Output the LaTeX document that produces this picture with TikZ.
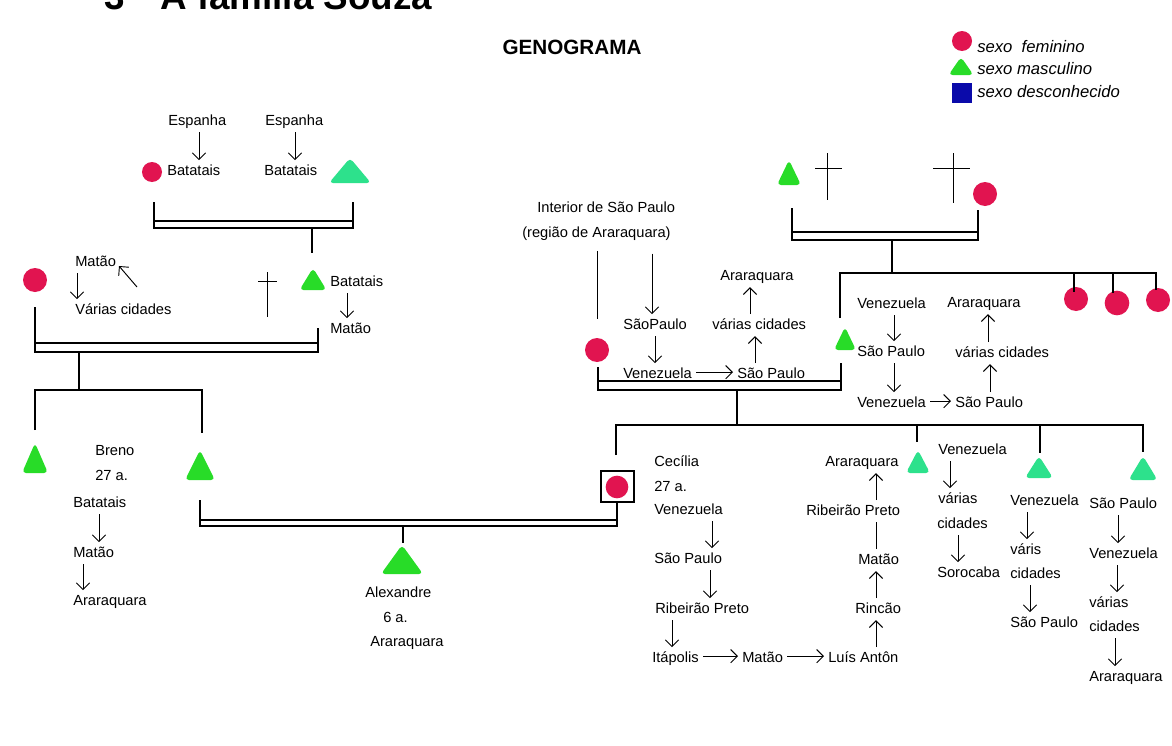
\documentclass[tikz,border=0pt]{standalone}
\usepackage{fontspec}
\setmainfont{Liberation Sans}
\usetikzlibrary{arrows.meta}
\definecolor{fred}{RGB}{225,20,80}
\definecolor{mgreen}{RGB}{40,220,40}
\definecolor{mint}{RGB}{45,225,140}
\definecolor{lblue}{RGB}{10,10,170}
\newcommand\gtri[6]{%
  \coordinate (#1) at (#2,{(#3+#4)/2});%
  \fill[#6, rounded corners=3pt] ({#2-#5/2},#4) -- (#2,#3) -- ({#2+#5/2},#4) -- cycle;}
\newcommand\marr[7]{%
  \coordinate (#7l) at (#1,#6); \coordinate (#7r) at (#2,#6);%
  \draw[kin] (#1,#3) -- (#7l) -- (#7r) -- (#2,#4);%
  \draw[kin] (#1,#5) -- (#2,#5);}
\begin{document}
\begin{tikzpicture}[x=0.75pt,y=-0.75pt,
  txt/.style={anchor=base west, inner sep=0pt, text height=7.9pt, text depth=2.2pt, font=\fontsize{11}{13}\selectfont},
  arr/.style={-{Straight Barb[length=5pt,width=10pt]}, line width=0.7pt, shorten <=3pt, shorten >=3pt},
  ln/.style={line width=0.7pt},
  kin/.style={line width=0.9pt},
  fem/.style={circle, fill=fred, inner sep=0pt, minimum size=#1},
  leg/.style={anchor=base west, inner sep=0pt, font=\fontsize{12.5}{14}\selectfont\itshape},
]
\useasboundingbox (0,0) rectangle (1172,746);
\fill[white] (0,0) rectangle (1172,746);

% title (cut at top)
\node[anchor=base west, inner sep=0, font=\fontsize{27.6}{30}\selectfont\bfseries] (tnum) at (104,9) {3};
\node[anchor=base west, inner sep=0, font=\fontsize{27.6}{30}\selectfont\bfseries] (title) at (160,9) {A família Souza};
\node[anchor=base, inner sep=0, font=\fontsize{15.5}{18}\selectfont\bfseries] (geno) at (572,55) {GENOGRAMA};

% legend
\node[fem=15pt] (lf) at (962,41) {};
\gtri{lm}{961}{57}{75}{25}{mgreen}
\node[fill=lblue, minimum size=15pt, inner sep=0] (lu) at (962,93) {};
\node[leg] (lft) at (977,52) {sexo\ \ feminino};
\node[leg] (lmt) at (977,74) {sexo masculino};
\node[leg] (lut) at (977,97) {sexo desconhecido};

% persons
\node[fem=15pt] (fA) at (152,172) {};
\node[fem=18pt] (fB) at (35,280) {};
\node[fem=18pt] (fC) at (597,350) {};
\node[fem=18pt] (fD) at (985,194) {};
\node[fem=18pt] (fE) at (1076,299) {};
\node[fem=18.5pt] (fF) at (1117,303) {};
\node[fem=18pt] (fG) at (1158,300) {};
\node[draw, line width=0.8pt, minimum width=24.75pt, minimum height=23.25pt, inner sep=0] (cbox) at (617.5,486.5) {};
\node[fem=17pt] (fH) at (617,487) {};
\gtri{mA}{350}{158}{183}{42}{mint}
\gtri{mB}{313}{268}{290}{27}{mgreen}
\gtri{mC}{35}{443}{473}{26}{mgreen}
\gtri{mD}{200}{450}{480}{30}{mgreen}
\gtri{mE}{402}{545}{574}{42}{mgreen}
\gtri{mF}{789}{160}{185}{24}{mgreen}
\gtri{mG}{845}{327}{350}{22}{mgreen}
\gtri{mH}{918}{450}{473}{24}{mint}
\gtri{mI}{1039}{456}{478}{28}{mint}
\gtri{mJ}{1143}{456}{480}{29}{mint}

% crosses
\draw[ln] (267,272) -- (267,317) (258,281) -- (277,281);
\draw[ln] (827,153) -- (827,200) (815,168) -- (842,168);
\draw[ln] (953,153) -- (953,203) (933,168) -- (970,168);

% marriages
\marr{154}{353}{202}{202}{221}{228}{pa}
\marr{35}{318}{307}{328}{343}{352}{pb}
\marr{200}{617}{500}{502}{520}{526}{pc}
\marr{598}{841}{367}{363}{381}{390}{pd}
\marr{792}{978}{208}{210}{232}{240}{pe}

% descent lines
\draw[kin] (pal -| 312,0) -- (312,253);
\draw[kin] (pbl -| 79,0) -- (79,390);
\draw[kin] (35,430) -- (35,390) -- (202,390) -- (202,433);
\draw[kin] (pcl -| 403,0) -- (403,543);
\draw[kin] (pdl -| 737,0) -- (737,425);
\draw[kin] (616,455) -- (616,425) -- (1143,425) -- (1143,452);
\draw[kin] (917,425) -- (917,442) (1040,425) -- (1040,453);
\draw[kin] (pel -| 892,0) -- (892,273);
\draw[kin] (840,318) -- (840,273) -- (1156,273) -- (1156,290);
\draw[kin] (1074,273) -- (1074,292) (1113,273) -- (1113,293);

% top-left texts
\node[txt] (espA) at (168,125) {Espanha};
\node[txt] (batA) at (167,175) {Batatais};
\node[txt] (espB) at (265,125) {Espanha};
\node[txt] (batB) at (264,175) {Batatais};
\draw[arr] (espA.south -| 199,0) -- (batA.north -| 199,0);
\draw[arr] (espB.south -| 295,0) -- (batB.north -| 295,0);

\node[txt] (pBat) at (330,286) {Batatais};
\node[txt] (pMat) at (330,333) {Matão};
\draw[arr] (pBat.south -| 347,0) -- (pMat.north -| 347,0);

\node[txt] (gMat) at (75,266) {Matão};
\node[txt] (gVar) at (75,314) {Várias cidades};
\draw[arr] (gMat.south -| 77,0) -- (gVar.north -| 77,0);
\coordinate (dgS) at (137,287);
\coordinate (dgE) at (119,266);
\draw[arr, shorten <=0pt, shorten >=0pt] (dgS) -- (dgE);

% Breno
\node[txt] (breno) at (95,455) {Breno};
\node[txt] (brenoAge) at (95,480) {27 a.};
\node[txt] (bBat) at (73,507) {Batatais};
\node[txt] (bMat) at (73,557) {Matão};
\node[txt] (bAra) at (73,605) {Araraquara};
\draw[arr] (bBat.south -| 99,0) -- (bMat.north -| 99,0);
\draw[arr] (bMat.south -| 83,0) -- (bAra.north -| 83,0);

% Alexandre
\node[txt] (alex) at (365,597) {Alexandre};
\node[txt] (alexAge) at (383,622) {6 a.};
\node[txt] (alexAra) at (370,646) {Araraquara};

% middle couple
\node[txt] (intSP) at (537,212) {Interior de São Paulo};
\node[txt] (regAra) at (522,237) {(região de Araraquara)};
\draw[ln, shorten <=8pt, shorten >=14pt] (regAra.south -| 597,0) -- (fC.north);
\node[txt] (mSP1) at (623,329) {SãoPaulo};
\node[txt] (mVen) at (623,378) {Venezuela};
\node[txt] (mSP2) at (737,378) {São Paulo};
\node[txt] (mVar) at (712,329) {várias cidades};
\node[txt] (mAra) at (720,280) {Araraquara};
\draw[arr, shorten <=10pt] (regAra.south -| 652,0) -- (mSP1.north -| 652,0);
\draw[arr] (mSP1.south -| 655,0) -- (mVen.north -| 655,0);
\draw[arr] ([yshift=1.5pt]mVen.east) -- ([yshift=1.5pt]mSP2.west);
\draw[arr] (mSP2.north -| 755,0) -- (mVar.south -| 755,0);
\draw[arr] (mVar.north -| 750,0) -- (mAra.south -| 750,0);

% right couple
\node[txt] (rVen1) at (857,308) {Venezuela};
\node[txt] (rSP1) at (857,356) {São Paulo};
\node[txt] (rVen2) at (857,407) {Venezuela};
\node[txt] (rSP2) at (955,407) {São Paulo};
\node[txt] (rVar) at (955,357) {várias cidades};
\node[txt] (rAra) at (947,307) {Araraquara};
\draw[arr] (rVen1.south -| 894,0) -- (rSP1.north -| 894,0);
\draw[arr] (rSP1.south -| 894,0) -- (rVen2.north -| 894,0);
\draw[arr] ([yshift=1.5pt]rVen2.east) -- ([yshift=1.5pt]rSP2.west);
\draw[arr] (rSP2.north -| 990,0) -- (rVar.south -| 990,0);
\draw[arr] (rVar.north -| 988,0) -- (rAra.south -| 988,0);

% Cecilia
\node[txt] (cec) at (654,466) {Cecília};
\node[txt] (cecAge) at (654,491) {27 a.};
\node[txt] (cVen) at (654,514) {Venezuela};
\node[txt] (cSP) at (654,563) {São Paulo};
\node[txt] (cRib) at (655,613) {Ribeirão Preto};
\node[txt] (cIta) at (652,662) {Itápolis};
\node[txt] (cMat) at (742,662) {Matão};
\node[txt] (cLui) at (828,662) {Luís Antôn};
\node[txt] (cRin) at (855,613) {Rincão};
\node[txt] (cMat2) at (858,564) {Matão};
\node[txt] (cRib2) at (806,515) {Ribeirão Preto};
\node[txt] (cAra) at (825,466) {Araraquara};
\draw[arr] (cVen.south -| 712,0) -- (cSP.north -| 712,0);
\draw[arr] (cSP.south -| 710,0) -- (cRib.north -| 710,0);
\draw[arr] (cRib.south -| 672,0) -- (cIta.north -| 672,0);
\draw[arr] ([yshift=1.5pt]cIta.east) -- ([yshift=1.5pt]cMat.west);
\draw[arr] ([yshift=1.5pt]cMat.east) -- ([yshift=1.5pt]cLui.west);
\draw[arr] (cLui.north -| 876,0) -- (cRin.south -| 876,0);
\draw[arr] (cRin.north -| 876,0) -- (cMat2.south -| 876,0);
\draw[ln, shorten <=3pt, shorten >=3pt] (cMat2.north -| 876,0) -- (cRib2.south -| 876,0);
\draw[arr] (cRib2.north -| 876,0) -- (cAra.south -| 876,0);

% siblings
\node[txt] (s1Ven) at (938,454) {Venezuela};
\node[txt] (s1Var) at (938,503) {várias};
\node[txt] (s1Cid) at (937,528) {cidades};
\node[txt] (s1Sor) at (937,577) {Sorocaba};
\draw[arr] (s1Ven.south -| 950,0) -- (s1Var.north -| 950,0);
\draw[arr] (s1Cid.south -| 958,0) -- (s1Sor.north -| 958,0);

\node[txt] (s2Ven) at (1010,505) {Venezuela};
\node[txt] (s2Var) at (1010,554) {váris};
\node[txt] (s2Cid) at (1010,578) {cidades};
\node[txt] (s2SP) at (1010,627) {São Paulo};
\draw[arr] (s2Ven.south -| 1027,0) -- (s2Var.north -| 1027,0);
\draw[arr] (s2Cid.south -| 1030,0) -- (s2SP.north -| 1030,0);

\node[txt] (s3SP) at (1089,508) {São Paulo};
\node[txt] (s3Ven) at (1089,558) {Venezuela};
\node[txt] (s3Var) at (1089,607) {várias};
\node[txt] (s3Cid) at (1089,631) {cidades};
\node[txt] (s3Ara) at (1089,681) {Araraquara};
\draw[arr] (s3SP.south -| 1118,0) -- (s3Ven.north -| 1118,0);
\draw[arr] (s3Ven.south -| 1117,0) -- (s3Var.north -| 1117,0);
\draw[arr] (s3Cid.south -| 1115,0) -- (s3Ara.north -| 1115,0);
\end{tikzpicture}
\end{document}
